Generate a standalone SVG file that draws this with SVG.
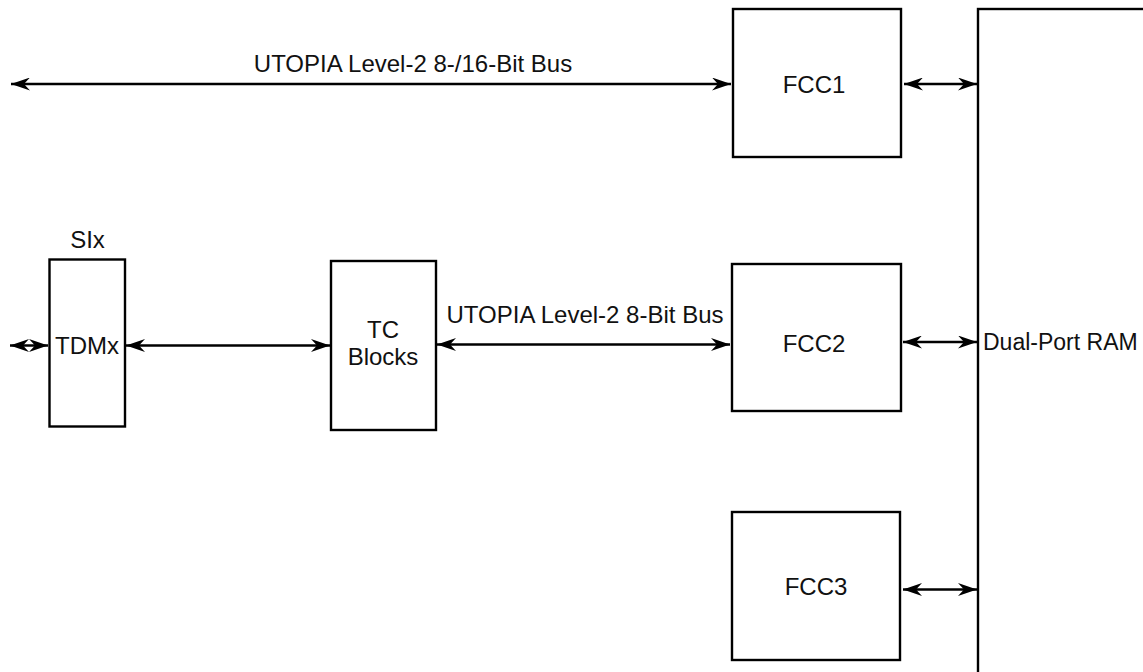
<svg xmlns="http://www.w3.org/2000/svg" width="1143" height="672" viewBox="0 0 1143 672">
<style>
.box{fill:#fff;stroke:#000;stroke-width:2.4}
.ln{stroke:#000;stroke-width:2.4;fill:none;marker-start:url(#ah);marker-end:url(#ah)}
text{font-family:"Liberation Sans",Arial,sans-serif;font-size:24px;fill:#111}
</style>
<defs>
<marker id="ah" viewBox="0 0 19 13" refX="19" refY="6.5" markerWidth="19" markerHeight="13" markerUnits="userSpaceOnUse" orient="auto-start-reverse">
<path d="M0,0 L19,6.5 L0,13 L6,6.5 Z" fill="#000"/>
</marker>
</defs>
<rect width="1143" height="672" fill="#fff"/>
<g id="connectors">
<line class="ln" x1="11" y1="84" x2="731" y2="84"/>
<line class="ln" x1="904" y1="84" x2="977" y2="84"/>
<line class="ln" x1="10" y1="345.5" x2="48" y2="345.5"/>
<line class="ln" x1="126" y1="345.5" x2="330" y2="345.5"/>
<line class="ln" x1="437" y1="344.5" x2="730" y2="344.5"/>
<line class="ln" x1="903" y1="342" x2="977" y2="342"/>
<line class="ln" x1="903" y1="589.5" x2="977" y2="589.5"/>
<text x="413" y="72" text-anchor="middle">UTOPIA Level-2 8-/16-Bit Bus</text>
<text x="585" y="323" text-anchor="middle">UTOPIA Level-2 8-Bit Bus</text>
</g>
<g id="fcc1">
<rect class="box" x="733" y="9" width="168" height="148"/>
<text x="814" y="93" text-anchor="middle">FCC1</text>
</g>
<g id="fcc2">
<rect class="box" x="732" y="264" width="169" height="147"/>
<text x="814" y="352" text-anchor="middle">FCC2</text>
</g>
<g id="fcc3">
<rect class="box" x="732" y="512" width="168" height="148"/>
<text x="816" y="595" text-anchor="middle">FCC3</text>
</g>
<g id="dpram">
<rect class="box" x="978" y="9" width="220" height="700"/>
<text x="983" y="350" style="font-size:23px">Dual-Port RAM</text>
</g>
<g id="six">
<rect class="box" x="49.5" y="259.5" width="75.5" height="167"/>
<text x="87.5" y="248" text-anchor="middle">SIx</text>
<text x="87" y="354" text-anchor="middle">TDMx</text>
</g>
<g id="tc">
<rect class="box" x="331" y="261" width="105" height="169"/>
<text x="383" y="338" text-anchor="middle">TC</text>
<text x="383" y="365" text-anchor="middle">Blocks</text>
</g>
</svg>
